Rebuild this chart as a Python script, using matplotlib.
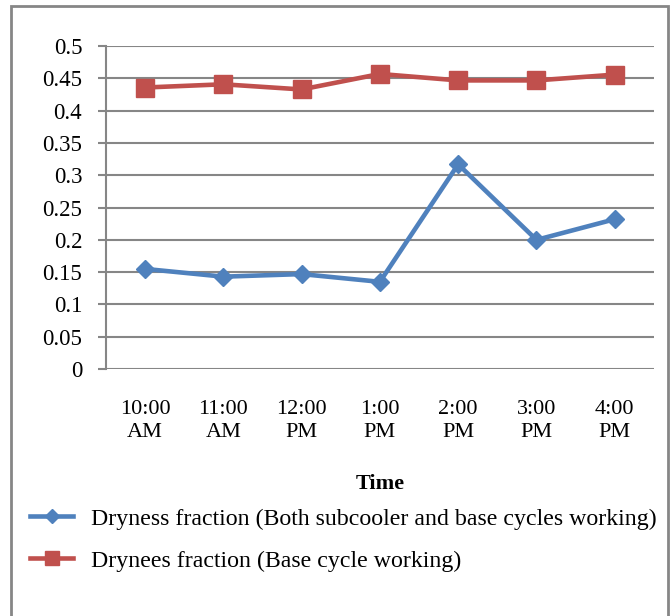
import numpy as np
import matplotlib.pyplot as plt
from matplotlib.patches import Rectangle

plt.rcParams['font.family'] = ['Liberation Serif', 'DejaVu Serif']

# --- Data
times = ["10:00\nAM", "11:00\nAM", "12:00\nPM", "1:00\nPM", "2:00\nPM", "3:00\nPM", "4:00\nPM"]
dryness_both = [0.155, 0.143, 0.147, 0.135, 0.317, 0.200, 0.232]
dryness_base = [0.436, 0.441, 0.433, 0.457, 0.447, 0.447, 0.456]
label_both = "Dryness fraction (Both subcooler and base cycles working)"
label_base = "Drynees fraction (Base cycle working)"

blue = "#4F81BD"
red = "#C0504D"
grid_grey = "#868686"

fig = plt.figure(figsize=(6.70, 6.16), dpi=100)
ax = fig.add_axes([0.158, 0.401, 0.818, 0.524])

x = np.arange(len(times))
ax.plot(x, dryness_both, color=blue, lw=3.3, marker='D', markersize=9.5,
        label=label_both, zorder=3)
ax.plot(x, dryness_base, color=red, lw=3.3, marker='s', markersize=13,
        label=label_base, zorder=3)

ax.set_xlim(-0.5, len(times) - 0.5)
ax.set_ylim(0, 0.5)
ax.set_yticks(np.arange(0, 0.51, 0.05))
ax.set_yticklabels(["0"] + [f"{v:g}" for v in np.arange(0.05, 0.51, 0.05)])
ax.set_xticks(x)
ax.set_xticklabels(times, linespacing=1.3)

ax.grid(axis='y', color=grid_grey, lw=1.5)
ax.set_axisbelow(True)
for side in ("top", "right", "bottom"):
    ax.spines[side].set_visible(False)
ax.spines["left"].set_color(grid_grey)
ax.spines["left"].set_linewidth(1.5)
ax.tick_params(axis='y', length=6, width=1.5, color=grid_grey, pad=11, labelsize=16.5)
ax.tick_params(axis='x', length=0, pad=22, labelsize=16)

fig.text(0.567, 1 - 484 / 616, "Time", ha='center', va='center',
         fontsize=16, fontweight='bold')

fig.legend(loc='upper left', bbox_to_anchor=(0.045, 1 - 508 / 616), frameon=False,
           fontsize=17.2, handlelength=1.8, handletextpad=0.75, labelspacing=0.85,
           markerscale=0.8, borderaxespad=0, borderpad=0)

# outer chart frame
fig.patches.append(Rectangle((11 / 670, -0.05), 657 / 670, 1.04, transform=fig.transFigure,
                             fill=False, edgecolor=grid_grey, lw=2))

fig.savefig("out.png", dpi=100)
